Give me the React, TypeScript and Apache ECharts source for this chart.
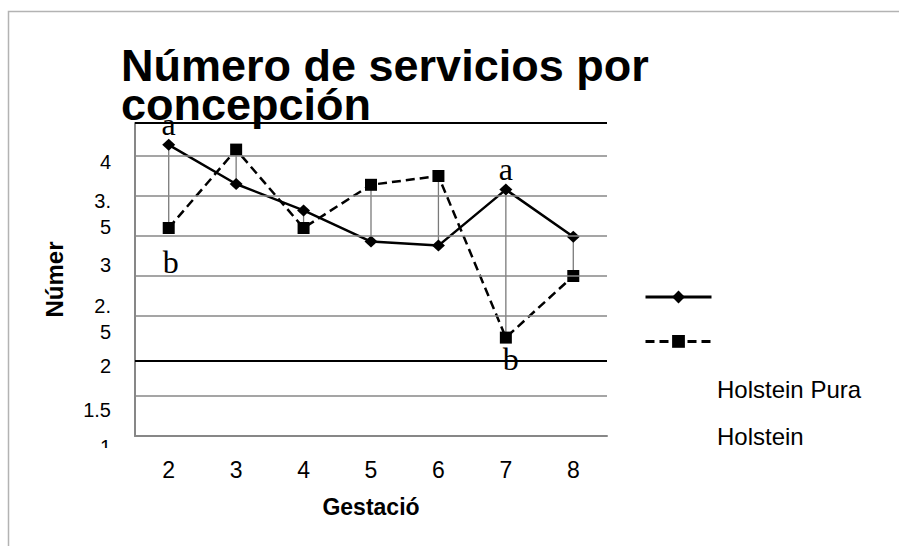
import React, { useEffect, useRef } from 'react';
import * as echarts from 'echarts';

const chartTitle = 'Número de servicios por\nconcepción';
const xAxisTitle = 'Gestació';
const yAxisTitle = 'Númer';
const categories = ['2', '3', '4', '5', '6', '7', '8'];
const seriesNames = ['Holstein Pura', 'Holstein'];
const holsteinPura = [4.64, 4.15, 3.82, 3.43, 3.38, 4.08, 3.49];
const holstein = [3.6, 4.58, 3.6, 4.14, 4.25, 2.23, 3.0];
const yTickLabels = ['4', '3.\n5', '3', '2.\n5', '2', '1.5', '1'];
const yTickValues = [4.42, 3.775, 3.14, 2.46, 1.87, 1.325, 1];
const grayGridValues = [4.5, 4.0, 3.5, 3.0, 2.5, 1.5];
const blackGridValues = [4.9125, 1.94];
const yMin = 1;
const yMax = 4.9125;
const letters = [
  { seriesIndex: 0, dataIndex: 0, text: 'a' },
  { seriesIndex: 1, dataIndex: 0, text: 'b' },
  { seriesIndex: 0, dataIndex: 5, text: 'a' },
  { seriesIndex: 1, dataIndex: 5, text: 'b' },
];

const SANS = '"Liberation Sans", Arial, sans-serif';
const SERIF = '"Liberation Serif", "Times New Roman", serif';
const GRID_GRAY = '#878787';

function letterLabel(l: { seriesIndex: number; dataIndex: number; text: string }) {
  const isTop = l.text === 'a';
  const tweak: Record<string, { distance: number; offset: number[] }> = {
    '1-0': { distance: 12, offset: [2, 0] },
    '1-5': { distance: -1, offset: [5, 0] },
  };
  const t = tweak[`${l.seriesIndex}-${l.dataIndex}`] || { distance: -1, offset: [0, 0] };
  return {
    show: true,
    formatter: l.text,
    position: isTop ? 'top' : 'bottom',
    distance: t.distance,
    offset: t.offset,
    fontFamily: SERIF,
    fontSize: 32,
    color: '#000',
  };
}

function buildData(values: number[], seriesIndex: number) {
  return values.map((v, i) => {
    const l = letters.find((x) => x.seriesIndex === seriesIndex && x.dataIndex === i);
    return l ? { value: v, label: letterLabel(l) } : v;
  });
}

export default function App() {
  const ref = useRef<HTMLDivElement>(null);
  useEffect(() => {
    if (!ref.current) return;
    const chart = echarts.init(ref.current, undefined, { renderer: 'svg' });
    const gridLines = [
      ...grayGridValues.map((v) => ({ yAxis: v, lineStyle: { color: GRID_GRAY, width: 1.6, type: 'solid' } })),
      ...blackGridValues.map((v) => ({ yAxis: v, lineStyle: { color: '#000', width: 2, type: 'solid' } })),
    ];
    chart.setOption({
      animation: false,
      backgroundColor: '#fff',
      title: {
        text: chartTitle,
        left: 116,
        top: 41,
        textStyle: { fontFamily: SANS, fontSize: 45, fontWeight: 'bold', color: '#000', lineHeight: 39 },
      },
      grid: { left: 135, right: 292, top: 123, bottom: 110 },
      legend: {
        orient: 'vertical',
        left: 639,
        top: 284,
        itemWidth: 66,
        itemHeight: 16,
        itemGap: 30,
        data: seriesNames,
        formatter: () => '',
        selectedMode: false,
        lineStyle: { width: 3 },
      },
      xAxis: {
        type: 'category',
        data: categories,
        boundaryGap: true,
        axisTick: { show: false },
        axisLine: { lineStyle: { color: GRID_GRAY, width: 2 } },
        axisLabel: { color: '#000', fontFamily: SANS, fontSize: 23, margin: 22 },
        name: xAxisTitle,
        nameLocation: 'middle',
        nameGap: 59,
        nameTextStyle: { color: '#000', fontFamily: SANS, fontSize: 23, fontWeight: 'bold' },
      },
      yAxis: {
        type: 'value',
        min: yMin,
        max: yMax,
        splitLine: { show: false },
        axisTick: { show: false },
        axisLine: { show: true, lineStyle: { color: GRID_GRAY, width: 2 } },
        axisLabel: {
          customValues: yTickValues,
          color: '#000',
          fontFamily: SANS,
          fontSize: 20,
          lineHeight: 26,
          margin: 24,
          formatter: (v: number) => {
            const i = yTickValues.findIndex((t) => Math.abs(t - v) < 1e-6);
            if (i < 0) return '';
            return v === yMin ? `{lo|${yTickLabels[i]}}` : yTickLabels[i];
          },
          rich: { lo: { fontFamily: SANS, fontSize: 20, color: '#000', padding: [22, 0, 0, 0] } },
        },
        name: yAxisTitle,
        nameLocation: 'middle',
        nameGap: 69,
        nameTextStyle: { color: '#000', fontFamily: SANS, fontSize: 24, fontWeight: 'bold' },
      },
      graphic: [
        {
          type: 'rect',
          silent: true,
          shape: { x: 8.5, y: 11.5, width: 1000, height: 1000 },
          style: { fill: 'none', stroke: '#b3b3b3', lineWidth: 1.5 },
        },
        {
          type: 'rect',
          silent: true,
          z: 100,
          shape: { x: 80, y: 448, width: 40, height: 14 },
          style: { fill: '#fff' },
        },
        ...seriesNames.map((n, i) => ({
          type: 'text',
          x: 717,
          y: 389 + i * 47,
          style: { text: n, fontFamily: SANS, fontSize: 24, fill: '#000', verticalAlign: 'middle' },
        })),
      ],
      series: [
        {
          type: 'custom',
          z: 1,
          silent: true,
          encode: { x: 0, y: [1, 2] },
          data: categories.map((_, i) => [i, holsteinPura[i], holstein[i]]),
          renderItem: (params: any, api: any) => {
            const i = api.value(0);
            const p1 = api.coord([i, api.value(1)]);
            const p2 = api.coord([i, api.value(2)]);
            return {
              type: 'line',
              shape: { x1: p1[0], y1: p1[1], x2: p2[0], y2: p2[1] },
              style: { stroke: '#7a7a7a', lineWidth: 1.3 },
            };
          },
          markLine: {
            silent: true,
            symbol: ['none', 'none'],
            label: { show: false },
            data: gridLines,
          },
        },
        {
          name: seriesNames[0],
          type: 'line',
          z: 3,
          data: buildData(holsteinPura, 0),
          symbol: 'diamond',
          symbolSize: [13, 12],
          itemStyle: { color: '#000' },
          lineStyle: { color: '#000', width: 2.5, type: 'solid' },
        },
        {
          name: seriesNames[1],
          type: 'line',
          z: 3,
          data: buildData(holstein, 1),
          symbol: 'rect',
          symbolSize: 12,
          itemStyle: { color: '#000' },
          lineStyle: { color: '#000', width: 2.5, type: [9, 5] },
        },
      ],
    });
    return () => chart.dispose();
  }, []);
  return <div ref={ref} style={{ position: 'absolute', left: 0, top: 0, width: 899, height: 546 }} />;
}
